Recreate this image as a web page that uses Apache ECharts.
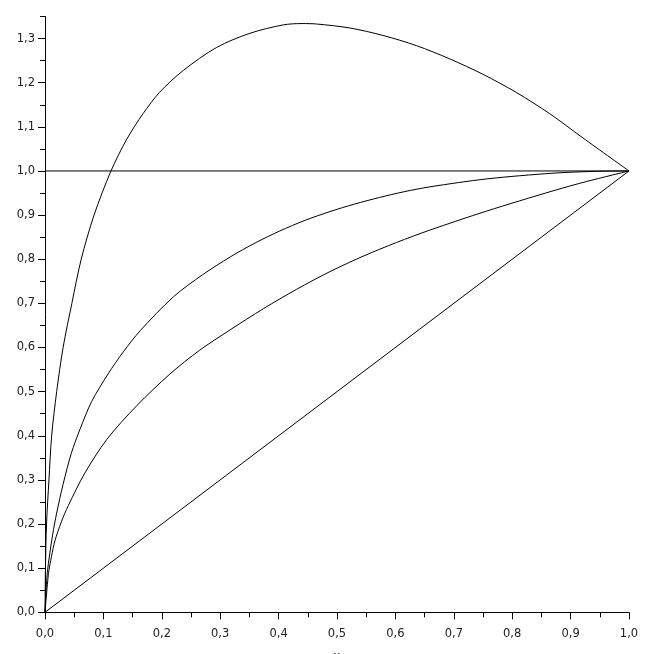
<!DOCTYPE html>
<html>
<head>
<meta charset="utf-8">
<script src="https://cdn.jsdelivr.net/npm/echarts@6/dist/echarts.min.js"></script>
<style>
  html, body { margin: 0; padding: 0; background: #fff; }
  #chart { width: 657px; height: 654px; }
</style>
</head>
<body>
<div id="chart"></div>
<script>
// tick values
const xTicks = [0, 0.1, 0.2, 0.3, 0.4, 0.5, 0.6, 0.7, 0.8, 0.9, 1.0];
const yTicks = [0, 0.1, 0.2, 0.3, 0.4, 0.5, 0.6, 0.7, 0.8, 0.9, 1.0, 1.1, 1.2, 1.3];

// top curve (peaks around 1.33)
const topX = [0, 0.0008, 0.0026, 0.0068, 0.0114, 0.020, 0.031, 0.046, 0.062, 0.084, 0.113, 0.140, 0.168, 0.196, 0.237, 0.294, 0.351, 0.408, 0.44, 0.465, 0.522, 0.579, 0.636, 0.693, 0.750, 0.807, 0.864, 0.921, 1.0];
const topY = [0, 0.1, 0.2, 0.3, 0.4, 0.5, 0.6, 0.7, 0.8, 0.9, 1.0, 1.072, 1.13, 1.178, 1.228, 1.28, 1.312, 1.331, 1.334, 1.333, 1.324, 1.307, 1.284, 1.254, 1.219, 1.178, 1.13, 1.075, 1.0];

// upper middle curve
const midX = [0, 0.004, 0.013, 0.020, 0.031, 0.045, 0.060, 0.08, 0.108, 0.134, 0.163, 0.22, 0.27, 0.317, 0.36, 0.402, 0.445, 0.488, 0.53, 0.573, 0.615, 0.659, 0.756, 0.870, 0.94, 1.0];
const midY = [0, 0.09, 0.175, 0.225, 0.29, 0.36, 0.415, 0.478, 0.54, 0.59, 0.638, 0.715, 0.765, 0.805, 0.837, 0.864, 0.888, 0.908, 0.925, 0.94, 0.953, 0.964, 0.982, 0.995, 0.999, 1.0];

// lower middle curve
const lowX = [0, 0.006, 0.011, 0.017, 0.028, 0.040, 0.068, 0.106, 0.157, 0.214, 0.265, 0.317, 0.374, 0.431, 0.488, 0.545, 0.602, 0.659, 0.756, 0.870, 0.927, 1.0];
const lowY = [0, 0.088, 0.126, 0.162, 0.205, 0.242, 0.315, 0.392, 0.468, 0.54, 0.594, 0.640, 0.688, 0.732, 0.772, 0.807, 0.838, 0.866, 0.909, 0.955, 0.976, 1.0];

// straight lines
const diagX = [0, 1];
const diagY = [0, 1];
const flatX = [0, 1];
const flatY = [1, 1];

const pairs = (xs, ys) => xs.map((x, i) => [x, ys[i]]);
const comma = v => Number(v).toFixed(1).replace('.', ',');

const labelFont = { color: '#222', fontFamily: 'DejaVu Sans', fontSize: 11.5 };
const black = { color: '#000', width: 1 };

const chart = echarts.init(document.getElementById('chart'));

const curve = (xs, ys, smooth) => ({
    type: 'line',
    data: pairs(xs, ys),
    showSymbol: false,
    smooth: smooth,
    lineStyle: { color: '#000', width: 1 },
    silent: true,
    animation: false
});

chart.setOption({
    backgroundColor: '#fff',
    animation: false,
    grid: { left: 45, right: 28, top: 16.5, bottom: 41.7, outerBoundsMode: 'none' },
    xAxis: {
        type: 'value',
        min: 0,
        max: 1,
        interval: 0.1,
        name: 'x',
        nameLocation: 'middle',
        nameGap: 39,
        nameTextStyle: labelFont,
        axisLine: { onZero: false, lineStyle: black },
        axisTick: { length: 7, lineStyle: black },
        minorTick: { show: true, splitNumber: 2, length: 5, lineStyle: black },
        splitLine: { show: false },
        axisLabel: Object.assign({ margin: 16, formatter: comma, customValues: xTicks }, labelFont)
    },
    yAxis: [{
        type: 'value',
        min: 0,
        max: 1.35,
        interval: 0.05,
        axisLine: { onZero: false, lineStyle: black },
        axisTick: { length: 5, lineStyle: black },
        splitLine: { show: false },
        axisLabel: Object.assign({ margin: 10, formatter: comma, customValues: yTicks }, labelFont)
    }, {
        type: 'value',
        min: 0,
        max: 1.35,
        position: 'left',
        axisLine: { show: false },
        axisTick: { show: true, length: 7, lineStyle: black, customValues: yTicks },
        axisLabel: { show: false },
        splitLine: { show: false }
    }],
    series: [
        curve(flatX, flatY, false),
        curve(diagX, diagY, false),
        curve(lowX, lowY, 0.3),
        curve(midX, midY, 0.3),
        curve(topX, topY, 0.3)
    ]
});
</script>
</body>
</html>
